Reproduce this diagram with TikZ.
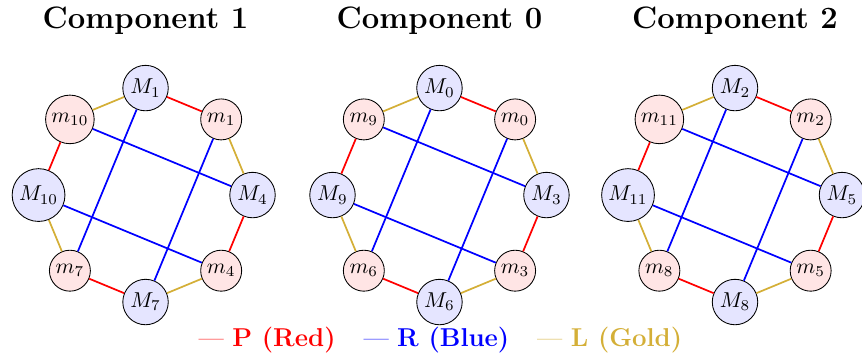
\documentclass[tikz,border=0pt]{standalone}
\usetikzlibrary{positioning}
\definecolor{pairred}{RGB}{255,0,0}
\definecolor{ringblue}{RGB}{0,0,255}
\definecolor{linkgold}{RGB}{212,175,55}

\begin{document}
\begin{tikzpicture}[
  bigM/.style={circle,draw=black,fill=blue!10,inner sep=1.7pt,font=\normalsize},
  smallm/.style={circle,draw=black,fill=red!10,inner sep=1.7pt,font=\normalsize},
  pedge/.style={thick,draw=pairred},
  redge/.style={thick,draw=ringblue},
  ledge/.style={thick,draw=linkgold},
  comptitle/.style={font=\Large\bfseries}]
\useasboundingbox (0,0) rectangle (14.085,5.85);
% one octagon per component: top / right / bottom / left index
\foreach \cx/\c/\a/\b/\d/\e in {2.378/1/1/4/7/10, 7.181/0/0/3/6/9, 12.010/2/2/5/8/11} {
  \node[comptitle] (title\c) at (\cx,5.507) {Component \c};
  \begin{scope}[shift={(\cx,2.663)}]
    \node[bigM] (M\a) at (90:1.748) {$M_{\a}$};
    \node[smallm] (m\a) at (45:1.748) {$m_{\a}$};
    \node[bigM] (M\b) at (0:1.748) {$M_{\b}$};
    \node[smallm] (m\b) at (-45:1.748) {$m_{\b}$};
    \node[bigM] (M\d) at (-90:1.748) {$M_{\d}$};
    \node[smallm] (m\d) at (-135:1.748) {$m_{\d}$};
    \node[bigM] (M\e) at (180:1.748) {$M_{\e}$};
    \node[smallm] (m\e) at (135:1.748) {$m_{\e}$};
  \end{scope}
  \draw[pedge] (M\a)--(m\a);
  \draw[pedge] (M\b)--(m\b);
  \draw[pedge] (M\d)--(m\d);
  \draw[pedge] (M\e)--(m\e);
  \draw[ledge] (m\a)--(M\b);
  \draw[ledge] (m\b)--(M\d);
  \draw[ledge] (m\d)--(M\e);
  \draw[ledge] (m\e)--(M\a);
  \draw[redge] (M\a)--(m\d);
  \draw[redge] (m\a)--(M\d);
  \draw[redge] (m\e)--(M\b);
  \draw[redge] (M\e)--(m\b);
}
\node[font=\large] (legend) at (7.197,0.294)
  {\textcolor{pairred}{--- \textbf{P (Red)}}\hspace{13pt}%
   \textcolor{ringblue}{--- \textbf{R (Blue)}}\hspace{13pt}%
   \textcolor{linkgold}{--- \textbf{L (Gold)}}};
\end{tikzpicture}
\end{document}
